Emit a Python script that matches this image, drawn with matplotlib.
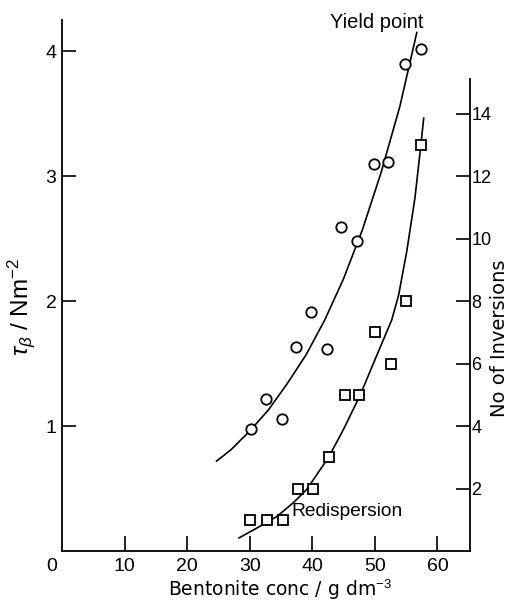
import matplotlib
matplotlib.use("Agg")
import matplotlib.pyplot as plt
from matplotlib.transforms import ScaledTranslation

plt.rcParams['font.family'] = ['Liberation Sans', 'DejaVu Sans']
plt.rcParams['mathtext.fontset'] = 'custom'
plt.rcParams['mathtext.rm'] = 'Liberation Sans'
plt.rcParams['mathtext.it'] = 'Liberation Sans:italic'

# ---- data ----
yield_x = [30.2, 32.6, 35.1, 37.4, 39.8, 42.4, 44.6, 47.2, 49.8, 52.1, 54.8, 57.3]
yield_y = [0.98, 1.22, 1.06, 1.63, 1.91, 1.62, 2.59, 2.48, 3.10, 3.11, 3.90, 4.02]

yield_curve_x = [24.7, 27, 30, 33, 36, 39, 42, 45, 48, 51, 54, 56.7]
yield_curve_y = [0.72, 0.81, 0.96, 1.13, 1.34, 1.57, 1.85, 2.18, 2.57, 3.03, 3.56, 4.15]

redisp_x = [30.0, 32.7, 35.3, 37.7, 40.1, 42.6, 45.2, 47.5, 50.0, 52.5, 55.0, 57.4]
redisp_y = [1, 1, 1, 2, 2, 3, 5, 5, 7, 6, 8, 13]

redisp_curve_x = [28.3, 31, 34.3, 37, 39.1, 42.6, 45, 47.6, 50.3, 52.7, 53.8, 55.1, 56.4, 57.35, 57.8]
redisp_curve_y = [0.42, 0.72, 1.10, 1.55, 1.97, 3.0, 3.9, 4.97, 6.26, 7.4, 8.2, 9.6, 11.3, 13.0, 13.86]

x_ticks = [0, 10, 20, 30, 40, 50, 60]
left_ticks = [1, 2, 3, 4]
right_ticks = [2, 4, 6, 8, 10, 12, 14]

fig = plt.figure(figsize=(5.10, 6.05), dpi=100)
ax = fig.add_axes([62/510, 1-551/605, 408/510, 531/605])
ax2 = ax.twinx()

lw = 1.2
ax.plot(yield_curve_x, yield_curve_y, color='black', lw=lw)
ax.plot(yield_x, yield_y, linestyle='none', marker='o', markersize=7.5,
        markerfacecolor='white', markeredgecolor='black', markeredgewidth=1.3)

ax2.plot(redisp_curve_x, redisp_curve_y, color='black', lw=lw)
ax2.plot(redisp_x, redisp_y, linestyle='none', marker='s', markersize=7,
         markerfacecolor='white', markeredgecolor='black', markeredgewidth=1.3)

ax.set_xlim(0, 65.2)
ax.set_ylim(0, 4.25)
ax2.set_ylim(0, 17.0)

for s in ['top', 'right']:
    ax.spines[s].set_visible(False)
for s in ['top', 'left', 'bottom']:
    ax2.spines[s].set_visible(False)
ax2.spines['right'].set_bounds(0, 15.1)
for sp in [ax.spines['left'], ax.spines['bottom'], ax2.spines['right']]:
    sp.set_linewidth(1.3)

ax.set_xticks(x_ticks)
ax.set_xticklabels([str(v) for v in x_ticks])
ax.set_yticks(left_ticks)
ax.set_yticklabels([str(v) for v in left_ticks])
ax2.set_yticks(right_ticks)
ax2.set_yticklabels([str(v) for v in right_ticks])

ax.tick_params(axis='x', direction='in', length=11, width=1.2, pad=5, labelsize=14)
ax.tick_params(axis='y', direction='in', length=10, width=1.2, pad=4, labelsize=14)
ax2.tick_params(axis='y', direction='in', length=10, width=1.2, pad=1, labelsize=13)

# shift the "0" label left
lab0 = ax.get_xticklabels()[0]
lab0.set_transform(lab0.get_transform() + ScaledTranslation(-0.10, 0, fig.dpi_scale_trans))
ax.xaxis.get_major_ticks()[0].tick1line.set_visible(False)

ax.set_xlabel('Bentonite conc / g dm$^{-3}$', fontsize=13.5, family=['DejaVu Sans'])
ax.xaxis.set_label_coords(0.534, -0.05)
ax.set_ylabel(r'$\tau_\beta$ / Nm$^{-2}$', fontsize=17.5)
ax.yaxis.set_label_coords(-0.062, 0.46)
ax2.set_ylabel('No of Inversions', fontsize=14, rotation=90, family=['DejaVu Sans'])
ax2.yaxis.set_label_coords(1.05, 0.40)

ax.text(0.657, 1.0 - 3/531, 'Yield point', transform=ax.transAxes, fontsize=14.5,
        ha='left', va='center')
ax.text(0.563, (551-512)/531, 'Redispersion', transform=ax.transAxes, fontsize=13.8,
        ha='left', va='center')

fig.savefig('out.png', dpi=100)
